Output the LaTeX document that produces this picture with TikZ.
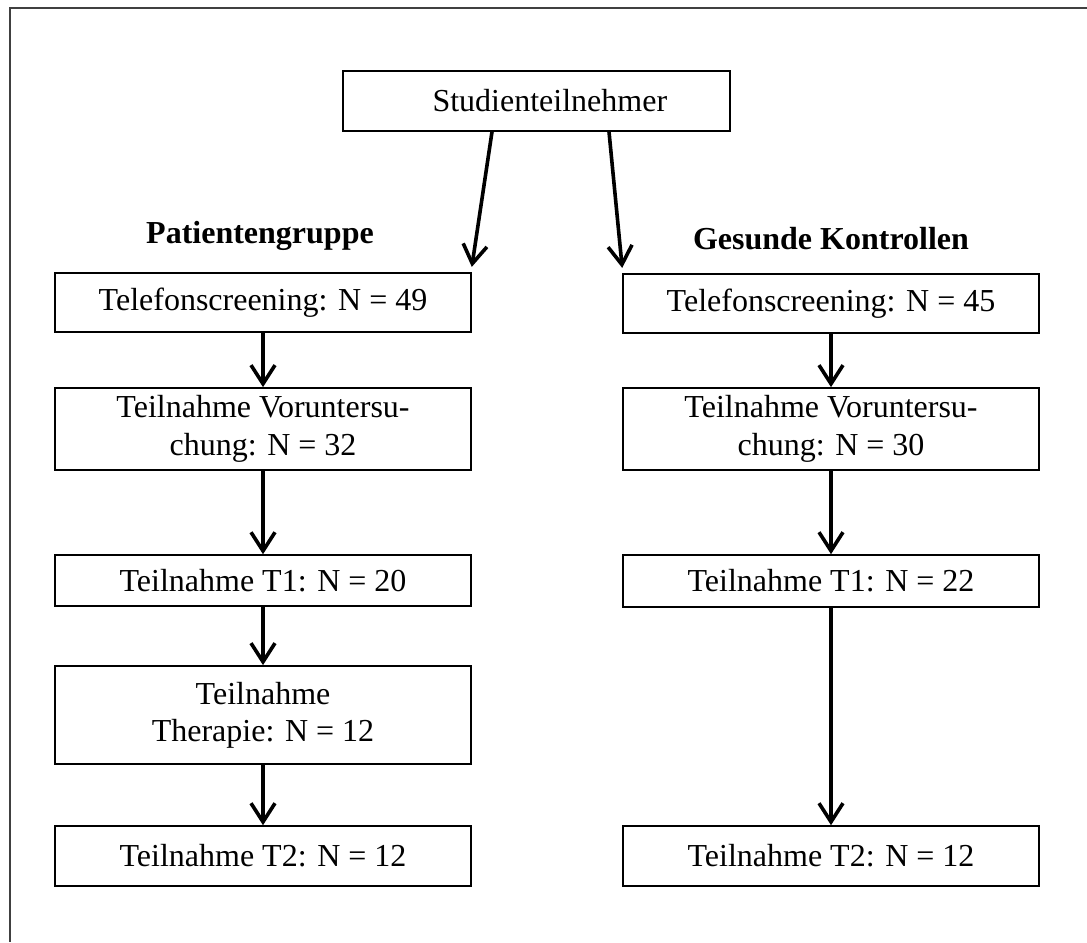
\documentclass[tikz,border=0pt]{standalone}
\usepackage{fontspec}
\setmainfont{Liberation Serif}
\usetikzlibrary{
    arrows.meta,
    positioning,
    calc
}

\begin{document}
\begin{tikzpicture}[
    x=0.375pt, y=-0.375pt,
    >={Straight Barb[length=7pt, width=9pt]},
    font=\fontsize{12}{14}\selectfont,
    box/.style={
        draw,
        line width=0.6pt,
        align=center,
        inner sep=0pt,
        minimum width=156pt
    },
    head/.style={font=\fontsize{12}{14}\selectfont\bfseries, anchor=base},
    arrow/.style={->, line width=1.35pt}
]

\useasboundingbox (0,0) rectangle (1087,942);
% page frame, only its top and left edges fall on the page
\draw[line width=0.45pt, black!75] (1087,8) -- (10,8) -- (10,942);

\def\xl{263}
\def\xr{831}

% ============================================================
% STUDY PARTICIPANTS
% ============================================================

\node[box, minimum width=145pt, minimum height=22.5pt] (teiln) at (536.5,101)
    {\hspace*{10pt}Studienteilnehmer};

\node[head] (hpat) at (260,243) {Patientengruppe};
\node[head] (hkon) at (831,249) {Gesunde Kontrollen};

% ============================================================
% PATIENT GROUP (left)
% ============================================================

\node[box, minimum height=22.1pt] (p1) at (\xl,302.5) {Telefonscreening: N = 49};
\node[box, minimum height=30.8pt] (p2) at (\xl,429) {Teilnahme Voruntersu-\\chung: N = 32};
\node[box, minimum height=19.1pt] (p3) at (\xl,580.5) {Teilnahme T1: N = 20};
\node[box, minimum height=36.8pt] (p4) at (\xl,715) {Teilnahme\\Therapie: N = 12};
\node[box, minimum height=22.5pt] (p5) at (\xl,856) {Teilnahme T2: N = 12};

\foreach \i [evaluate=\i as \j using int(\i+1)] in {1,...,4} {
    \draw[arrow] (p\i.south) -- (p\j.north);
}

% ============================================================
% HEALTHY CONTROLS (right)
% ============================================================

\node[box, minimum height=22.1pt] (k1) at (\xr,303.5) {Telefonscreening: N = 45};
\node[box, minimum height=30.8pt] (k2) at (\xr,429) {Teilnahme Voruntersu-\\chung: N = 30};
\node[box, minimum height=19.5pt] (k3) at (\xr,581) {Teilnahme T1: N = 22};
\node[box, minimum height=22.5pt] (k4) at (\xr,856) {Teilnahme T2: N = 12};

\foreach \i [evaluate=\i as \j using int(\i+1)] in {1,...,3} {
    \draw[arrow] (k\i.south) -- (k\j.north);
}

% ============================================================
% SPLIT
% ============================================================

\draw[arrow] ($(teiln.south)+(-44.5,0)$) -- ([yshift=2pt]p1.north east);
\draw[arrow] ($(teiln.south)+(72.5,0)$) -- ([yshift=2pt]k1.north west);

\end{tikzpicture}
\end{document}
